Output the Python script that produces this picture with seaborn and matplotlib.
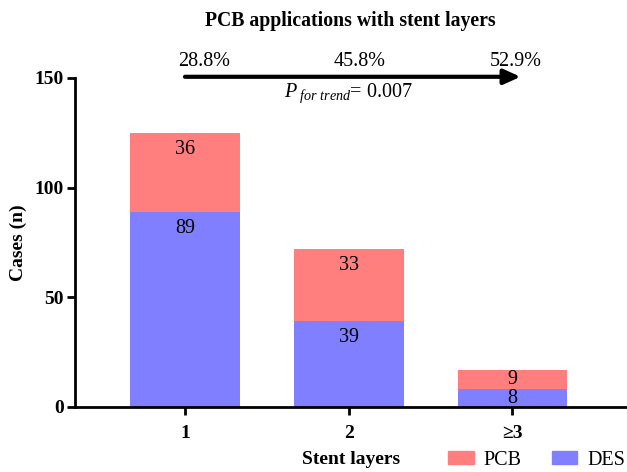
import numpy as np
import pandas as pd
import matplotlib
matplotlib.use("Agg")
import matplotlib.pyplot as plt
import seaborn as sns
from matplotlib.patches import Patch

# data
layers = ["1", "2", "\u22653"]
des = [89, 39, 8]
pcb = [36, 33, 9]
pcb_pct = ["28.8%", "45.8%", "52.9%"]
p_trend = "0.007"

pcb_color = "#FF7F7F"
des_color = "#7F7FFF"

df = pd.DataFrame({"layers": layers, "DES": des, "PCB": pcb})
df["total"] = df["DES"] + df["PCB"]

sns.set_style("ticks")
plt.rcParams["font.family"] = ["Liberation Serif", "DejaVu Serif"]
plt.rcParams["mathtext.fontset"] = "custom"
plt.rcParams["mathtext.it"] = "Liberation Serif:italic"
plt.rcParams["mathtext.rm"] = "Liberation Serif"
plt.rcParams["text.color"] = "black"
plt.rcParams["axes.labelcolor"] = "black"
plt.rcParams["xtick.color"] = "black"
plt.rcParams["ytick.color"] = "black"
plt.rcParams["axes.edgecolor"] = "black"

fig = plt.figure(figsize=(6.27, 4.72), dpi=100)
ax = fig.add_axes([0.12, 0.138, 0.88, 0.697])

# stacked bars: total in PCB colour, DES drawn over it
sns.barplot(data=df, x="layers", y="total", color=pcb_color, width=0.67,
            saturation=1, linewidth=0, ax=ax)
sns.barplot(data=df, x="layers", y="DES", color=des_color, width=0.67,
            saturation=1, linewidth=0, ax=ax)

# value labels near top of each segment
for i, row in df.iterrows():
    for top, h in [(row["total"], row["PCB"]), (row["DES"], row["DES"])]:
        ax.text(i, top - min(7.5, h / 2), str(h), ha="center", va="center",
                fontsize=14.5)

ax.set_xlim(-0.67, 2.7)
ax.set_ylim(0, 150)
ax.set_yticks([0, 50, 100, 150])
ax.set_ylabel("Cases (n)", fontsize=14, fontweight="bold", labelpad=6)
ax.set_xlabel("Stent layers", fontsize=14, fontweight="bold")
ax.xaxis.set_label_coords(0.5, -0.135)
for lab in ax.get_xticklabels() + ax.get_yticklabels():
    lab.set_fontweight("bold")
ax.tick_params(labelsize=14, width=2, length=6)
ax.tick_params(axis="x", pad=7)
ax.tick_params(axis="y", pad=2)
for s in ["left", "bottom"]:
    ax.spines[s].set_linewidth(2)
sns.despine(ax=ax)

# trend arrow and annotation
ax.annotate("", xy=(2.05, 150.5), xytext=(0, 150.5),
            arrowprops=dict(arrowstyle="-|>,head_length=1.0,head_width=0.45",
                            lw=3, color="black", shrinkA=0, shrinkB=0),
            annotation_clip=False)
for x, t in zip([0.12, 1.07, 2.02], pcb_pct):
    ax.text(x, 157.5, t, ha="center", va="center", fontsize=14.5, clip_on=False)
ax.text(1.0, 143, r"$P_{\ for\ trend}$= " + p_trend, ha="center", va="center",
        fontsize=14.5, clip_on=False)

fig.text(0.558, 0.956, "PCB applications with stent layers", ha="center",
         va="center", fontsize=14.2, fontweight="bold")

handles = [Patch(color=pcb_color, label="PCB"), Patch(color=des_color, label="DES")]
fig.legend(handles=handles, loc="center right", bbox_to_anchor=(1.0, 0.025),
           ncol=2, frameon=False, fontsize=14.5, handlelength=1.25,
           handleheight=0.6, handletextpad=0.5, columnspacing=1.5,
           borderaxespad=0, borderpad=0.1)

fig.savefig("out.png", dpi=100)
